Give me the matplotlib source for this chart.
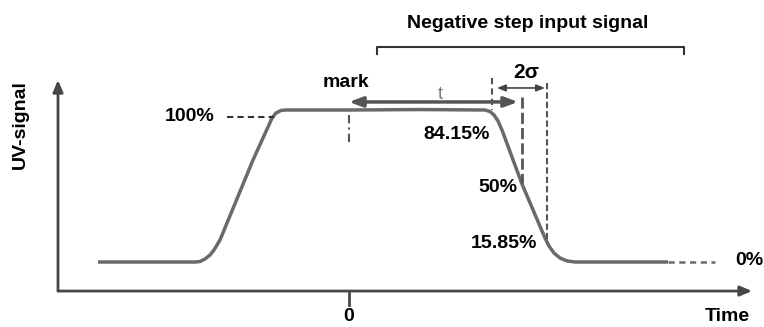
import matplotlib.pyplot as plt

plt.rcParams['font.family'] = ['Liberation Sans', 'DejaVu Sans']

# response curve: time (arbitrary units, 0 = mark) and UV signal (%)
curve_t = [-12.55, -7.7, -7.45, -7.2, -6.95, -6.75, -6.45, -4.8, -4.05, -3.85,
           -3.65, -3.4, -3.15, 0.05, 3.55, 6.8, 7.05, 7.25, 7.45, 7.65,
           8.65, 9.8, 10.0, 10.25, 10.55, 10.9, 11.3, 15.95]
curve_y = [0, 0, 0.3, 2.0, 4.6, 7.9, 14.5, 67.1, 88.8, 94.7,
           98.0, 99.7, 100, 100, 100.3, 100, 99.0, 96.7, 92.8, 86.8,
           51.3, 15.8, 10.5, 5.9, 2.6, 0.7, 0, 0]

level_labels = ['100%', '84.15%', '50%', '15.85%', '0%']
level_t = [-6.7, 7.05, 8.4, 9.4, 19.3]
level_y = [95.4, 83.6, 49.3, 12.5, 1.3]
level_ha = ['right', 'right', 'right', 'right', 'left']

t_start, t_84, t_50, t_16 = 0.0, 7.15, 8.65, 9.9
step_start, step_end = 1.4, 16.75

fig = plt.figure(figsize=(7.64, 3.27), dpi=100)
ax = fig.add_axes([0, 0, 1, 1])
ax.set_xlim(-17.45, 20.75)
ax.set_ylim(-42.76, 172.37)
ax.axis('off')

axis_col = '#474747'
curve_col = '#6a6a6a'

# axes with arrow heads
ax.annotate('', xy=(-14.55, 119.7), xytext=(-14.55, -19.1),
            arrowprops=dict(arrowstyle='-|>,head_length=0.7,head_width=0.3',
                            color=axis_col, lw=2, shrinkA=0, shrinkB=0))
ax.annotate('', xy=(20.15, -19.1), xytext=(-14.55, -19.1),
            arrowprops=dict(arrowstyle='-|>,head_length=0.7,head_width=0.3',
                            color=axis_col, lw=2, shrinkA=0, shrinkB=0))
ax.plot([0, 0], [-19.1, -28.3], color=axis_col, lw=2)

# curve
ax.plot(curve_t, curve_y, color=curve_col, lw=2.5, solid_capstyle='butt')

# guide lines
ax.plot([15.95, 18.3], [0, 0], color=curve_col, lw=1.8, ls=(0, (2.5, 1.8)))
ax.plot([-6.1, -3.75], [95.4, 95.4], color='#333333', lw=1.5, ls=(0, (3, 2)))
ax.plot([t_start, t_start], [96.7, 77], color='#555555', lw=1.5, ls=(0, (4, 2, 1, 2)))
ax.plot([t_84, t_84], [121, 100], color='#555555', lw=1.5, ls=(0, (3, 2)))
ax.plot([t_50, t_50], [108.6, 52], color='#555555', lw=2, ls=(0, (4, 1.5)))
ax.plot([t_16, t_16], [117.8, 12.5], color='#555555', lw=1.5, ls=(0, (3, 1.5)))

# t and 2 sigma arrows
ax.annotate('', xy=(t_start, 105.3), xytext=(8.45, 105.3),
            arrowprops=dict(arrowstyle='<|-|>,head_length=0.8,head_width=0.3',
                            color='#555555', lw=2.5, shrinkA=0, shrinkB=0))
ax.annotate('', xy=(7.4, 114.5), xytext=(9.8, 114.5),
            arrowprops=dict(arrowstyle='<|-|>,head_length=0.5,head_width=0.2',
                            color='#444444', lw=1.2, shrinkA=0, shrinkB=0))

# step bracket
ax.plot([step_start, step_start, step_end, step_end], [136.8, 141.4, 141.4, 136.8],
        color='#333333', lw=1.5)

ax.text(8.95, 157.2, 'Negative step input signal', fontsize=14, fontweight='bold',
        ha='center', va='center')
ax.text(-0.15, 118.4, 'mark', fontsize=14, fontweight='bold', ha='center', va='center')
ax.text(4.55, 110.5, 't', fontsize=13, color='#777777', ha='center', va='center')
ax.text(8.85, 125, '2σ', fontsize=15, fontweight='bold', ha='center', va='center')

for lab, tx, ty, ha in zip(level_labels, level_t, level_y, level_ha):
    ax.text(tx, ty, lab, fontsize=14, fontweight='bold', ha=ha, va='center')

ax.text(0, -35.8, '0', fontsize=14, fontweight='bold', ha='center', va='center')
ax.text(18.9, -35.8, 'Time', fontsize=14, fontweight='bold', ha='center', va='center')
ax.text(-16.45, 90.1, 'UV-signal', fontsize=14, fontweight='bold', rotation=90,
        ha='center', va='center')

fig.savefig('out.png', dpi=100)
